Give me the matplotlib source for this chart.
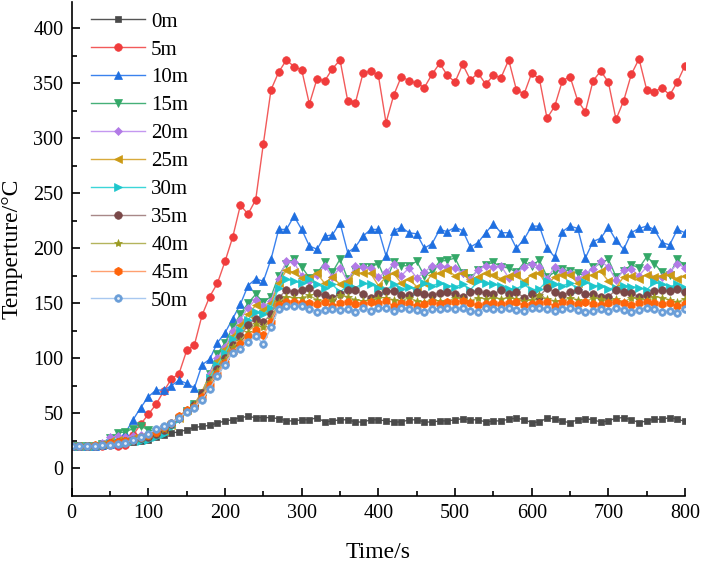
import numpy as np
import matplotlib
matplotlib.use("Agg")
import matplotlib.pyplot as plt

plt.rcParams['font.family'] = ['Liberation Serif', 'DejaVu Serif']

# time axis, one sample every 10 s
time_s = np.arange(0, 801, 10)

# temperatures (deg C)
m0 = [20, 20, 20, 20, 20, 21, 21, 22, 24, 25,
      26, 28, 30, 32, 33, 35, 37, 38, 39, 41,
      43, 44, 46, 47, 46, 46, 46, 45, 43, 43,
      44, 44, 46, 42, 43, 44, 44, 42, 42, 44,
      44, 43, 42, 42, 44, 44, 42, 42, 43, 43,
      44, 45, 44, 44, 42, 43,
      43, 44.5, 45.5, 44, 41.5, 42, 45.5, 45, 42.5, 41.5,
      44, 45, 44, 42, 43, 45.5, 46, 44, 41.5, 43,
      44.5, 44.5, 46, 44.5, 42.5]
m5 = [20, 20, 20, 20, 20, 21, 20, 21, 30, 40,
      49, 58, 70, 81, 86, 107, 112, 139, 156, 168,
      188, 210, 239, 231, 244, 295, 344, 360, 371, 365,
      362, 331, 354, 352, 363, 371, 334, 332, 359, 361,
      357, 314, 339, 356, 352, 350, 346, 358, 368, 357,
      351, 367, 353, 359, 349, 357,
      355, 371, 344, 340, 359, 354, 318, 329, 352, 356,
      334, 324, 352, 361, 351, 317, 334, 358, 372, 344,
      342, 346, 339, 351, 366]
m10 = [20, 20, 20, 20, 21, 22, 25, 32, 44, 55,
       65, 71, 71, 75, 80, 77, 73, 94, 99, 114,
       123, 136, 149, 166, 172, 170, 190, 217, 217, 229,
       217, 202, 199, 211, 212, 223, 196, 201, 211, 217,
       217, 193, 216, 219, 214, 213, 200, 204, 217, 215,
       219, 216, 201, 205, 214, 222,
       214, 214, 200, 208, 220, 220, 200, 192, 215, 220,
       218, 191, 206, 209, 219, 207, 199, 214, 218, 220,
       217, 205, 203, 217, 214]
m15 = [20, 20, 20, 20, 22, 27, 32, 33, 36, 38,
       35, 33, 33, 38, 45, 52, 58, 68, 86, 104,
       114, 128, 140, 150, 158, 151, 156, 175, 186, 190,
       183, 173, 177, 187, 178, 190, 172, 180, 183, 183,
       186, 170, 187, 184, 184, 188, 175, 179, 188, 189,
       191, 177, 173, 180, 185, 187,
       183, 182, 178, 187, 184, 189, 174, 178, 181, 179,
       177, 175, 183, 186, 190, 174, 179, 185, 182, 192,
       186, 178, 176, 190, 184]
m20 = [20, 20, 20, 20, 23, 28, 29, 28, 29, 30,
       30, 33, 35, 40, 46, 53, 57, 67, 86, 100,
       110, 125, 135, 146, 153, 147, 152, 172, 188, 187,
       175, 170, 176, 184, 174, 182, 170, 184, 183, 182,
       174, 178, 186, 175, 182, 173, 178, 184, 184, 183,
       182, 177, 172, 180, 184, 183,
       184, 173, 177, 183, 186, 183, 172, 183, 179, 177,
       172, 177, 181, 188, 183, 171, 180, 181, 175, 183,
       172, 174, 178, 186, 182]
m25 = [20, 20, 20, 21, 22, 25, 26, 25, 27, 28,
       29, 31, 34, 39, 46, 53, 58, 70, 84, 97,
       108, 120, 130, 140, 148, 144, 150, 168, 180, 178,
       173, 173, 177, 168, 174, 167, 170, 178, 177, 177,
       166, 174, 177, 168, 172, 165, 168, 176, 177, 180,
       175, 177, 170, 174, 177, 176,
       172, 175, 176, 170, 176, 177, 166, 174, 176, 176,
       168, 174, 176, 179, 170, 164, 174, 175, 172, 176,
       174, 175, 176, 172, 175]
m30 = [20, 20, 20, 20, 21, 23, 24, 23, 25, 25,
       26, 28, 31, 37, 45, 52, 57, 67, 82, 94,
       105, 117, 126, 135, 142, 140, 146, 164, 172, 170,
       168, 172, 167, 164, 167, 160, 166, 164, 168, 167,
       164, 162, 167, 163, 165, 161, 168, 166, 168, 166,
       165, 167, 162, 170, 168, 167,
       166, 163, 163, 167, 162, 163, 170, 167, 166, 168,
       163, 169, 166, 166, 163, 164, 166, 165, 164, 162,
       169, 167, 165, 167, 164]
m35 = [20, 20, 20, 20, 21, 23, 24, 25, 26, 27,
       28, 31, 35, 40, 46, 52, 57, 68, 80, 90,
       100, 112, 120, 130, 136, 133, 140, 155, 162, 160,
       162, 164, 159, 157, 155, 158, 162, 162, 158, 155,
       158, 161, 161, 157, 157, 160, 158, 157, 159, 160,
       158, 156, 160, 161, 159, 158,
       162, 158, 160, 155, 158, 156, 164, 160, 157, 160,
       162, 158, 158, 156, 156, 162, 160, 159, 156, 157,
       161, 162, 161, 163, 160]
m40 = [20, 20, 20, 20, 21, 23, 24, 25, 26, 27,
       29, 32, 36, 41, 47, 53, 57, 66, 78, 88,
       98, 110, 116, 124, 131, 128, 136, 151, 156, 155,
       155, 157, 153, 151, 153, 157, 156, 153, 152, 153,
       155, 155, 153, 152, 155, 152, 151, 153, 152, 151,
       155, 154, 152, 155, 154, 155,
       154, 155, 154, 152, 153, 157, 154, 152, 152, 155,
       153, 151, 155, 154, 152, 154, 151, 155, 154, 153,
       156, 155, 153, 151, 154]
m45 = [20, 20, 20, 21, 21, 23, 24, 25, 26, 28,
       30, 33, 37, 41, 47, 53, 56, 65, 76, 86,
       96, 106, 113, 120, 126, 121, 133, 148, 151, 151,
       150, 150, 149, 151, 147, 150, 151, 149, 149, 151,
       150, 152, 147, 150, 150, 147, 149, 151, 149, 151,
       151, 152, 150, 148, 149, 150,
       149, 150, 151, 148, 149, 150, 151, 147, 151, 150,
       149, 151, 149, 148, 150, 151, 150, 148, 150, 151,
       150, 149, 150, 147, 149]
m50 = [20, 20, 20, 20, 21, 21, 22, 23, 26, 28,
       31, 36, 38, 41, 46, 51, 55, 62, 72, 84,
       94, 105, 108, 115, 120, 113, 128, 145, 147, 147,
       147, 145, 142, 144, 145, 144, 145, 142, 146, 143,
       146, 146, 143, 146, 145, 144, 142, 145, 145, 146,
       145, 146, 143, 142, 146, 145,
       145, 146, 144, 143, 146, 146, 145, 143, 145, 146,
       144, 142, 143, 145, 143, 146, 144, 142, 144, 146,
       145, 142, 143, 141, 145]

labels = ['0m', '5m', '10m', '15m', '20m', '25m', '30m', '35m', '40m', '45m', '50m']
series = [m0, m5, m10, m15, m20, m25, m30, m35, m40, m45, m50]
markers = ['s', 'o', '^', 'v', 'D', '<', '>', 'o', '*', 'h', 'o']
msizes = [4.5, 5.5, 6, 6, 4.5, 6, 6, 5.5, 6, 6, 5.5]
mcolors = ['#4a4a4a', '#f03c3c', '#1f6fe0', '#34a868', '#b27ae6', '#cc9a14',
           '#1ec6cc', '#7a4848', '#9a9a20', '#ff640a', '#6a9ed8']
lcolors = ['#555555', '#f25a5a', '#3a82ee', '#45b078', '#c498f0', '#d8aa3c',
           '#3cd6d8', '#a88888', '#b4b45c', '#ffa070', '#a8c8f0']

fig = plt.figure(figsize=(7.01, 5.64), dpi=100)
ax = fig.add_axes([0.1023, 0.1211, 0.8749, 0.8759])

handles = []
for vals, lab, mk, ms, mc, lc in zip(series, labels, markers, msizes, mcolors, lcolors):
    ln, = ax.plot(time_s, vals, color=lc, linewidth=1.0, marker=mk, markersize=ms,
                  markerfacecolor=mc, markeredgecolor=mc, markeredgewidth=0.5, label=lab)
    handles.append(ln)

# white glint on the 50m balls
glint, = ax.plot(time_s, m50, ls='none', marker='o', markersize=2,
                 markerfacecolor='white', markeredgecolor='none', alpha=0.85)
handles[-1] = (handles[-1], glint)

ax.set_xlim(0, 800)
ax.set_ylim(-25, 424)
ax.set_xticks(np.arange(0, 801, 100))
ax.set_xticks(np.arange(50, 800, 100), minor=True)
ax.set_yticks(np.arange(0, 401, 50))
ax.set_yticks(np.arange(25, 425, 50), minor=True)

ax.spines['top'].set_visible(False)
ax.spines['right'].set_visible(False)
for s in ['left', 'bottom']:
    ax.spines[s].set_linewidth(1.2)
ax.tick_params(which='major', direction='in', length=6, width=1.2, labelsize=14.5, pad=6)
ax.tick_params(which='minor', direction='in', length=3.5, width=1.2)

ax.set_xlabel('Time/s', fontsize=17, labelpad=14)
ax.set_ylabel('Temperture/°C', fontsize=17, labelpad=8)

ax.legend(handles, labels, loc='upper left', bbox_to_anchor=(0.1294, 0.9787),
          bbox_transform=fig.transFigure, frameon=False, fontsize=15,
          handlelength=2.6, handletextpad=0.3, labelspacing=0.4,
          borderpad=0, borderaxespad=0)

fig.savefig('out.png', dpi=100)
